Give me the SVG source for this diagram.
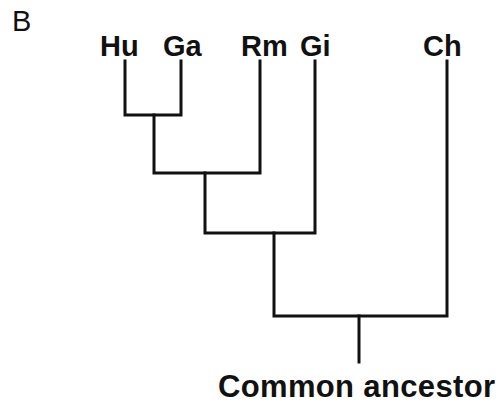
<svg xmlns="http://www.w3.org/2000/svg" width="504" height="403" viewBox="0 0 504 403">
  <style>
    .lbl { font-family: "Liberation Sans", Arial, sans-serif; font-weight: bold; font-size: 29px; fill: #111; }
    .root { font-size: 31px; }
    .panel { font-family: "Liberation Sans", Arial, sans-serif; font-size: 29px; fill: #111; }
    .edge { fill: none; stroke: #111; stroke-width: 3; stroke-linejoin: miter; stroke-linecap: square; }
  </style>
  <rect width="504" height="403" fill="#fff"/>
  <text class="panel" x="12" y="31">B</text>

  <g id="connectors">
    <!-- Hu + Ga -->
    <path class="edge" d="M125 61 V115 H181 V61"/>
    <!-- (Hu,Ga) + Rm -->
    <path class="edge" d="M154 115 V173 H260 V61"/>
    <!-- + Gi -->
    <path class="edge" d="M205 173 V233 H315 V61"/>
    <!-- + Ch -->
    <path class="edge" d="M274 233 V316 H447 V61"/>
    <!-- root stem -->
    <path class="edge" d="M359 316 V362"/>
  </g>

  <g id="Hu"><text class="lbl" x="100" y="56">Hu</text></g>
  <g id="Ga"><text class="lbl" x="163" y="56">Ga</text></g>
  <g id="Rm"><text class="lbl" x="241" y="56">Rm</text></g>
  <g id="Gi"><text class="lbl" x="300" y="56">Gi</text></g>
  <g id="Ch"><text class="lbl" x="423" y="56">Ch</text></g>
  <g id="root"><text class="lbl root" x="218" y="397" textLength="277" lengthAdjust="spacing">Common ancestor</text></g>
</svg>
